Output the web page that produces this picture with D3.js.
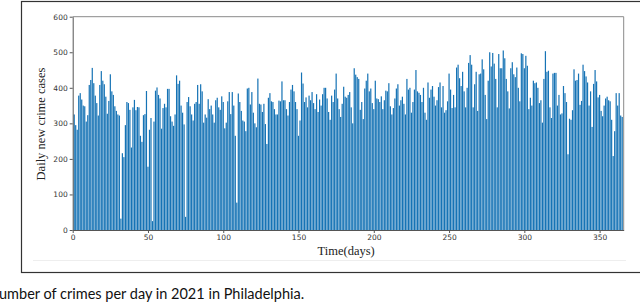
<!DOCTYPE html>
<html>
<head>
<meta charset="utf-8">
<script src="https://cdn.jsdelivr.net/npm/d3@7"></script>
<style>
  html, body { margin: 0; padding: 0; background: #fff; }
  svg { display: block; }
  .tick text { font-family: "DejaVu Sans", sans-serif; font-size: 7.5px; fill: #333; }
</style>
</head>
<body>
<div id="chart"></div>
<script>
// daily crime counts, 2021
const crimesJanApr = [
  325, 295, 282, 378, 385, 367, 350, 348, 305, 323,
  408, 422, 456, 413, 378, 357, 322, 408, 447, 420,
  410, 375, 327, 363, 438, 390, 380, 348, 335, 325,
  322, 32, 216, 205, 295, 360, 357, 338, 232, 345,
  366, 337, 346, 345, 265, 248, 323, 326, 391, 178,
  282, 315, 25, 305, 392, 401, 380, 370, 285, 343,
  355, 345, 397, 397, 320, 305, 293, 325, 435, 411,
  420, 350, 330, 297, 37, 360, 374, 348, 325, 308,
  355, 360, 408, 355, 410, 390, 302, 325, 316, 368,
  340, 350, 325, 302, 365, 372, 345, 338, 376, 360,
  286, 302, 362, 388, 326, 388, 350, 265, 77
];
const crimesMayAug = [
  384, 360, 335, 308, 305, 278, 398, 400, 353, 388,
  330, 300, 289, 426, 355, 353, 332, 355, 298, 242,
  372, 385, 362, 360, 340, 325, 325, 364, 362, 418,
  365, 365, 340, 322, 360, 395, 408, 390, 360, 340,
  265, 308, 443, 412, 360, 373, 345, 378, 365, 388,
  357, 340, 382, 332, 367, 350, 382, 400, 400, 370,
  332, 310, 378, 360, 395, 440, 370, 340, 318, 355,
  403, 375, 372, 380, 388, 345, 300, 455, 437, 430,
  425, 338, 360, 312, 398, 420, 440, 390, 398, 357,
  340, 420, 370, 368, 360, 376, 340, 365, 392, 390,
  413, 348, 325, 343, 370, 398, 410, 350, 365, 375,
  355, 325, 425, 395, 400, 330, 360, 395, 450, 390,
  386, 380, 360, 400, 330, 310, 415, 372, 395, 405
];
const crimesSepDec = [
  375, 350, 365, 402, 415, 345, 405, 330, 337, 362,
  440, 395, 343, 380, 345, 457, 465, 427, 405, 445,
  390, 345, 400, 470, 492, 465, 345, 410, 445, 335,
  438, 440, 480, 452, 380, 312, 420, 500, 460, 498,
  468, 425, 345, 495, 455, 455, 505, 483, 425, 390,
  342, 455, 472, 438, 430, 457, 400, 362, 497, 495,
  455, 490, 462, 340, 372, 350, 420, 413, 415, 400,
  357, 365, 302, 425, 503, 445, 448, 345, 315, 440,
  442, 442, 350, 380, 325, 328, 405, 385, 360, 213,
  313, 310, 337, 452, 420, 422, 440, 352, 363, 465,
  447, 432, 415, 350, 390, 290, 411, 450, 418, 373,
  380, 335, 320, 350, 370, 375, 365, 362, 310, 208,
  278, 385, 350, 385, 322, 318
];
const dailyCrimes = crimesJanApr.concat(crimesMayAug, crimesSepDec);
const days = dailyCrimes.map((_, i) => i + 1);

const xTicks = [0, 50, 100, 150, 200, 250, 300, 350];
const yTicks = [0, 100, 200, 300, 400, 500, 600];

const width = 640, height = 304;
const plot = { left: 72.7, right: 623.7, top: 16.7, bottom: 230 };

const svg = d3.select('#chart')
  .append('svg')
  .attr('width', width)
  .attr('height', height);

// outer figure frame
svg.append('rect')
  .attr('x', 21.5).attr('y', 1.5)
  .attr('width', 640).attr('height', 271)
  .attr('fill', 'none')
  .attr('stroke', '#333')
  .attr('stroke-width', 1.2);

svg.append('line')
  .attr('x1', 33).attr('x2', 626)
  .attr('y1', 260.5).attr('y2', 260.5)
  .attr('stroke', '#eee');

const x = d3.scaleLinear().domain([0, 366]).range([plot.left, plot.right]);
const y = d3.scaleLinear().domain([0, 600]).range([plot.bottom, plot.top]);

// bars
const barW = x(0.8) - x(0);
svg.append('g')
  .selectAll('rect')
  .data(dailyCrimes)
  .enter()
  .append('rect')
  .attr('x', (d, i) => x(days[i]) - barW / 2)
  .attr('y', d => y(d))
  .attr('width', barW)
  .attr('height', d => y(0) - y(d))
  .attr('fill', '#1673b5');

// frame: top/right lighter
svg.append('line')
  .attr('x1', plot.left).attr('x2', plot.right)
  .attr('y1', plot.top).attr('y2', plot.top)
  .attr('stroke', '#8a8a8a');
svg.append('line')
  .attr('x1', plot.right).attr('x2', plot.right)
  .attr('y1', plot.top).attr('y2', plot.bottom)
  .attr('stroke', '#8a8a8a');

// axes
const xAxis = svg.append('g')
  .attr('transform', `translate(0,${plot.bottom})`)
  .call(d3.axisBottom(x).tickValues(xTicks).tickSize(3).tickPadding(2).tickSizeOuter(0));
const yAxis = svg.append('g')
  .attr('transform', `translate(${plot.left},0)`)
  .call(d3.axisLeft(y).tickValues(yTicks).tickSize(3).tickPadding(2).tickSizeOuter(0));

[xAxis, yAxis].forEach(a => {
  a.select('.domain').attr('stroke', '#555');
  a.selectAll('.tick line').attr('stroke', '#555');
});

// axis titles
svg.append('text')
  .attr('x', (plot.left + plot.right) / 2 - 2)
  .attr('y', 255)
  .attr('text-anchor', 'middle')
  .attr('font-family', '"Liberation Serif", serif')
  .attr('font-size', '12.5px')
  .attr('fill', '#222')
  .text('Time(days)');

svg.append('text')
  .attr('transform', 'translate(45,124) rotate(-90)')
  .attr('text-anchor', 'middle')
  .attr('font-family', '"Liberation Serif", serif')
  .attr('font-size', '12.5px')
  .attr('fill', '#222')
  .text('Daily new crime cases');

// caption (cut off at the left in the source)
svg.append('text')
  .attr('x', -1)
  .attr('y', 299)
  .attr('font-family', 'Lato, sans-serif')
  .attr('font-size', '14.5px')
  .attr('fill', '#111')
  .text('umber of crimes per day in 2021 in Philadelphia.');
</script>
</body>
</html>
